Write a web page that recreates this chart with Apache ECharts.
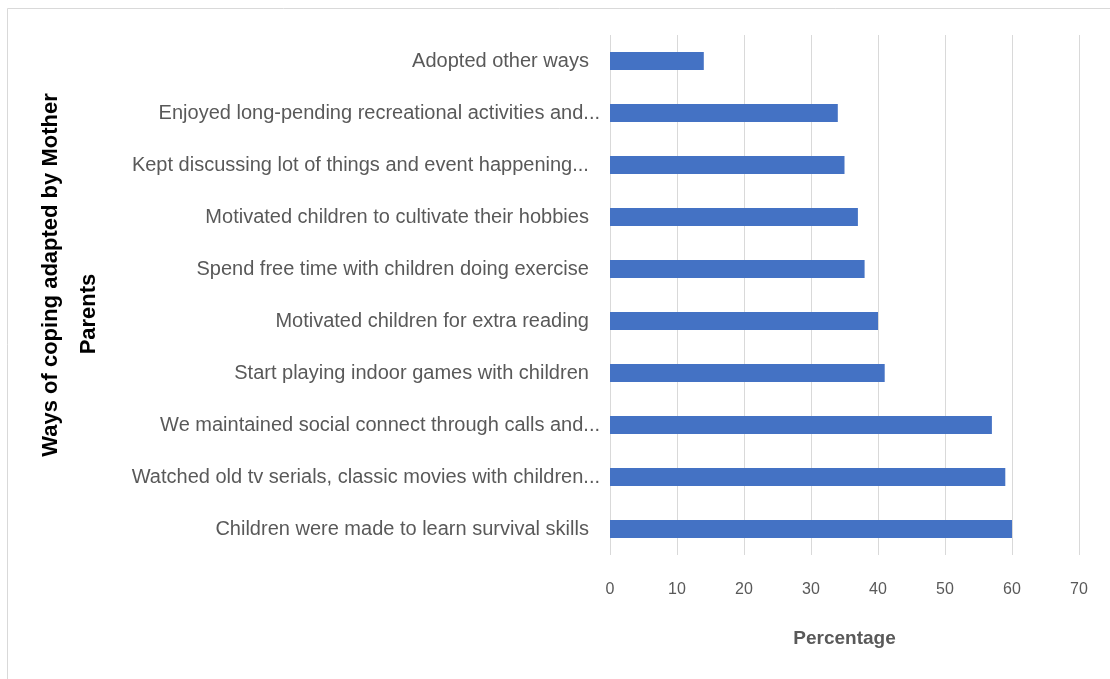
<!DOCTYPE html>
<html>
<head>
<meta charset="utf-8">
<script src="https://cdn.jsdelivr.net/npm/echarts@6/dist/echarts.min.js"></script>
<style>
html,body{margin:0;padding:0;background:#fff;}
#chart{width:1110px;height:679px;}
</style>
</head>
<body>
<div id="chart"></div>
<script>
// Categories listed bottom-to-top (ECharts category y-axis starts at the bottom)
const categories = [
  "Children were made to learn survival skills  ",
  "Watched old tv serials, classic movies with children...",
  "We maintained social connect through calls and...",
  "Start playing indoor games with children  ",
  "Motivated children for extra reading  ",
  "Spend free time with children doing exercise  ",
  "Motivated children to cultivate their hobbies  ",
  "Kept discussing lot of things and event happening...  ",
  "Enjoyed long-pending recreational activities and...",
  "Adopted other ways  "
];
const values = [60, 59, 57, 41, 40, 38, 37, 35, 34, 14];
const xTicks = [0, 10, 20, 30, 40, 50, 60, 70];
const xAxisTitle = "Percentage";
const yTitleLine1 = "Ways of coping adapted by Mother";
const yTitleLine2 = "Parents";

const chart = echarts.init(document.getElementById('chart'), null, {renderer: 'canvas'});
const FONT = "'Liberation Sans', Arial, sans-serif";
chart.setOption({
  animation: false,
  backgroundColor: '#ffffff',
  grid: {left: 610, right: 31, top: 35, bottom: 124, containLabel: false},
  xAxis: {
    type: 'value',
    min: xTicks[0],
    max: xTicks[xTicks.length - 1],
    interval: 10,
    name: xAxisTitle,
    nameLocation: 'middle',
    nameGap: 74,
    nameTextStyle: {color: '#595959', fontSize: 19, fontWeight: 'bold', fontFamily: FONT},
    axisLine: {show: false},
    axisTick: {show: false},
    axisLabel: {color: '#595959', fontSize: 16, margin: 27, fontFamily: FONT},
    splitLine: {show: true, lineStyle: {color: '#d9d9d9', width: 1}}
  },
  yAxis: {
    type: 'category',
    data: categories,
    axisLine: {show: false},
    axisTick: {show: false},
    axisLabel: {color: '#595959', fontSize: 20, margin: 10, fontFamily: FONT},
    splitLine: {show: false}
  },
  series: [{
    type: 'bar',
    data: values,
    barWidth: 18,
    itemStyle: {color: '#4472C4'}
  }],
  graphic: [
    {type: 'rect', shape: {x: 7.5, y: 8.5, width: 1200, height: 800},
     style: {fill: 'none', stroke: '#d9d9d9', lineWidth: 1}, z: -1},
    {type: 'text', x: 51, y: 275, rotation: Math.PI / 2,
     style: {text: yTitleLine1, fill: '#000', font: "bold 22px 'Liberation Sans', Arial, sans-serif",
             textAlign: 'center', textVerticalAlign: 'middle'}},
    {type: 'text', x: 89, y: 314, rotation: Math.PI / 2,
     style: {text: yTitleLine2, fill: '#000', font: "bold 22px 'Liberation Sans', Arial, sans-serif",
             textAlign: 'center', textVerticalAlign: 'middle'}}
  ]
});
</script>
</body>
</html>
